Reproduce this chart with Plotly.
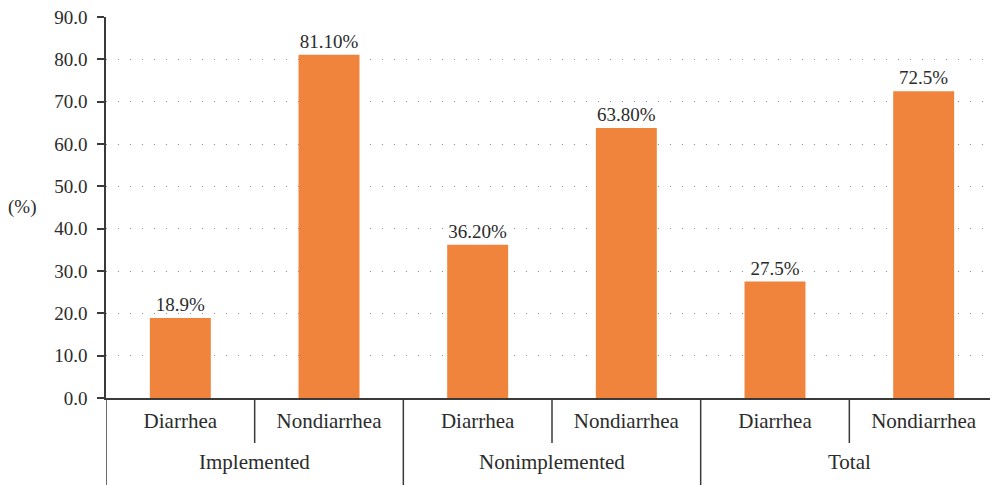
import plotly.graph_objects as go

groups = ["Implemented", "Nonimplemented", "Total"]
categories = ["Diarrhea", "Nondiarrhea", "Diarrhea", "Nondiarrhea", "Diarrhea", "Nondiarrhea"]
values = [18.9, 81.1, 36.2, 63.8, 27.5, 72.5]
value_labels = ["18.9%", "81.10%", "36.20%", "63.80%", "27.5%", "72.5%"]
y_ticks = [0, 10, 20, 30, 40, 50, 60, 70, 80, 90]

FONT = "Liberation Serif"
TXT = "#2b2b2b"
AX = "#3a3a3a"
idx = list(range(len(categories)))

fig = go.Figure(go.Bar(
    x=idx, y=values, text=value_labels, textposition="outside",
    textfont=dict(family=FONT, size=19, color=TXT),
    marker=dict(color="#F1843D", line=dict(width=0)),
    cliponaxis=False, width=0.41,
))

# page has an 8px body margin, so the figure is offset by (8, 8)
W, H = 990, 477
ml, mr, mt, mb = 98, 0, 9, 87
plot_h = H - mt - mb

fig.update_layout(
    width=W, height=H,
    margin=dict(l=ml, r=mr, t=mt, b=mb, autoexpand=False),
    plot_bgcolor="white", paper_bgcolor="white",
    showlegend=False,
    font=dict(family=FONT, size=19, color=TXT),
)
fig.update_xaxes(
    range=[-0.5, 5.5], tickvals=idx, ticktext=categories, automargin=False,
    showgrid=False, zeroline=False, showline=True, linecolor=AX, linewidth=1.5,
    ticks="", ticklabelstandoff=3,
    tickfont=dict(family=FONT, size=21, color=TXT),
)
fig.update_yaxes(
    range=[0, 90.02], tickvals=y_ticks, tickformat=".1f", automargin=False,
    ticklabeloverflow="allow",
    showgrid=True, gridcolor="#8a8a8a", gridwidth=1, griddash="1px,11px",
    zeroline=False, showline=True, linecolor=AX, linewidth=1.5,
    ticks="outside", ticklen=7, tickcolor=AX, tickwidth=1.5, ticklabelstandoff=6,
    tickfont=dict(family=FONT, size=19, color=TXT),
)

# divider lines below the axis
inner_depth = -45 / plot_h
outer_depth = -mb / plot_h
shapes = []
for g in range(len(groups)):
    shapes.append(dict(type="line", xref="x", yref="paper", x0=2 * g + 0.5, x1=2 * g + 0.5,
                       y0=0, y1=inner_depth, line=dict(color=AX, width=1.5)))
for b in [-0.5, 1.5, 3.5]:
    shapes.append(dict(type="line", xref="x", yref="paper", x0=b, x1=b,
                       y0=0, y1=outer_depth, line=dict(color=AX, width=1.5)))
fig.update_layout(shapes=shapes)

annotations = []
for g, name in enumerate(groups):
    annotations.append(dict(x=2 * g + 0.5, y=-64 / plot_h, xref="x", yref="paper",
                            text=name, showarrow=False, yanchor="middle",
                            font=dict(family=FONT, size=21, color=TXT)))
annotations.append(dict(x=0, y=191 / plot_h, xref="paper", yref="paper", xshift=-84,
                        text="(%)", showarrow=False, xanchor="center", yanchor="middle",
                        font=dict(family=FONT, size=19, color=TXT)))
fig.update_layout(annotations=annotations)

fig.write_html("out.html")
